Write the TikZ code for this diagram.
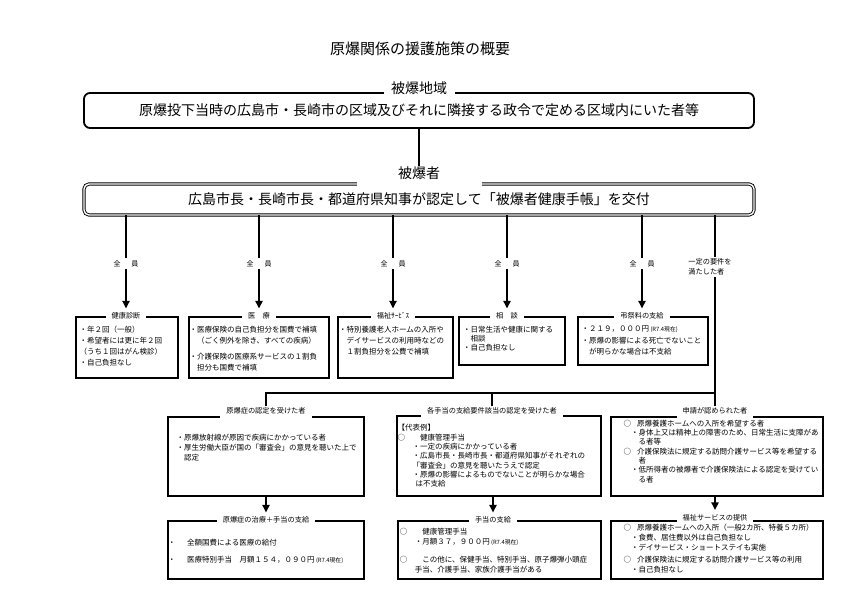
\documentclass[tikz,border=0pt]{standalone}
\usepackage{fontspec}
\setmainfont{Noto Sans CJK JP}
\usetikzlibrary{arrows.meta}
\newcommand{\genzai}{{\fontsize{5.8}{6}\selectfont\ (R7.4現在)}}
\newcommand{\indt}[1]{\hspace*{#1em}}
\tikzset{
  conn/.style={line width=2.2pt},
  arr/.style={conn,-{Triangle[length=7.5pt,width=7pt]},shorten >=3pt},
  bigbox/.style={draw,line width=1.8pt,rounded corners=6pt,minimum width=670pt,inner sep=0pt,font=\fontsize{14}{16}\selectfont},
  toplabel/.style={fill=white,anchor=base,inner xsep=0pt,inner ysep=0pt,font=\fontsize{14}{16}\selectfont},
  sbox/.style={draw,line width=1.6pt,anchor=north west,inner sep=0pt},
  slabel/.style={fill=white,inner xsep=6pt,inner ysep=1pt,font=\fontsize{7.2}{8}\selectfont},
  mlabel/.style={slabel,anchor=base,text depth=3.5pt},
  stext/.style={anchor=north west,inner sep=0pt,align=left,font=\fontsize{7.5}{10.5}\selectfont},
  zenin/.style={fill=white,inner sep=2.5pt,font=\fontsize{7}{8}\selectfont},
  yoken/.style={fill=white,inner sep=2pt,align=left,font=\fontsize{7.2}{10}\selectfont}
}
\begin{document}
\begin{tikzpicture}[x=1pt,y=-1pt]
\useasboundingbox (0,0) rectangle (842,596);
\node[font=\fontsize{15}{17}\selectfont] (title) at (420,49) {原爆関係の援護施策の概要};

\node[bigbox,minimum height=35pt] (chiiki) at (419,110.5) {原爆投下当時の広島市・長崎市の区域及びそれに隣接する政令で定める区域内にいた者等};
\node[toplabel,minimum width=71pt] (chiikiL) at (419,93.3) {被爆地域};
\node[bigbox,line width=0.9pt,double,double distance=1.4pt,rounded corners=5pt,minimum height=31pt] (techo) at (419,199.5) {広島市長・長崎市長・都道府県知事が認定して「被爆者健康手帳」を交付};
\node[toplabel,minimum width=125pt,text depth=8pt] (hibakushaL) at (419,178.3) {被爆者};
\draw[conn] (chiiki) -- (hibakushaL);

\node[sbox,minimum width=102pt,minimum height=61pt] (kenshin) at (75,316) {};
\node[slabel] (kenshinL) at (126,316) {健康診断};
\node[stext,font=\fontsize{7.5}{11}\selectfont] (kenshinT) at (79.5,325.5) {・年２回（一般）\\・希望者には更に年２回\\（うち１回はがん検診）\\・自己負担なし};

\node[sbox,minimum width=140pt,minimum height=61pt] (iryo) at (188,316) {};
\node[slabel] (iryoL) at (259,316) {医　療};
\node[stext,font=\fontsize{7.5}{11}\selectfont] (iryoT) at (189.5,325.5) {・医療保険の自己負担分を国費で補填\\\indt{1}（ごく例外を除き、すべての疾病）\\[5pt]・介護保険の医療系サービスの１割負\\\indt{1}担分も国費で補填};

\node[sbox,minimum width=115pt,minimum height=61pt] (fukushi) at (337,316) {};
\node[slabel] (fukushiL) at (393,316) {福祉ｻｰﾋﾞｽ};
\node[stext,font=\fontsize{7.5}{11}\selectfont] (fukushiT) at (339,325.5) {・特別養護老人ホームの入所や\\\indt{1}デイサービスの利用時などの\\\indt{1}１割負担分を公費で補填};

\node[sbox,minimum width=106pt,minimum height=48pt] (sodan) at (458,316) {};
\node[slabel] (sodanL) at (507,316) {相　談};
\node[stext,font=\fontsize{7.5}{9.2}\selectfont] (sodanT) at (463,325.5) {・日常生活や健康に関する\\\indt{1}相談\\・自己負担なし};

\node[sbox,minimum width=130pt,minimum height=48pt] (chosai) at (577,316) {};
\node[slabel] (chosaiL) at (642,316) {弔祭料の支給};
\node[stext] (chosaiT) at (581.5,325.5) {・２１９，０００円\genzai\\[2pt]・原爆の影響による死亡でないこと\\\indt{1}が明らかな場合は不支給};

\draw[arr] (techo.south -| kenshinL) -- node[zenin] (zenin1) {全\hspace{11pt}員} (kenshinL);
\draw[arr] (techo.south -| iryoL) -- node[zenin] (zenin2) {全\hspace{11pt}員} (iryoL);
\draw[arr] (techo.south -| fukushiL) -- node[zenin] (zenin3) {全\hspace{11pt}員} (fukushiL);
\draw[arr] (techo.south -| sodanL) -- node[zenin] (zenin4) {全\hspace{11pt}員} (sodanL);
\draw[arr] (techo.south -| chosaiL) -- node[zenin] (zenin5) {全\hspace{11pt}員} (chosaiL);

\node[sbox,minimum width=196pt,minimum height=79pt] (nintei) at (167,416) {};
\node[mlabel] (ninteiL) at (266,413.7) {原爆症の認定を受けた者};
\node[stext,font=\fontsize{7.5}{9.6}\selectfont] (ninteiT) at (176.3,434.3) {・原爆放射線が原因で疾病にかかっている者\\・厚生労働大臣が国の「審査会」の意見を聴いた上で\\\indt{1}認定};

\node[sbox,minimum width=204pt,minimum height=80pt] (teate) at (396,415) {};
\node[mlabel] (teateL) at (492,413.7) {各手当の支給要件該当の認定を受けた者};
\node[stext,font=\fontsize{7.5}{9.35}\selectfont] (teateT) at (397.5,424.3) {【代表例】\\○\hspace{15pt}健康管理手当\\\indt{2}・一定の疾病にかかっている者\\\indt{2}・広島市長・長崎市長・都道府県知事がそれぞれの\\\indt{2}「審査会」の意見を聴いたうえで認定\\\indt{2}・原爆の影響によるものでないことが明らかな場合\\\indt{2.4}は不支給};

\node[sbox,minimum width=212pt,minimum height=79pt] (shinsei) at (610,416) {};
\node[mlabel] (shinseiL) at (715,413.7) {申請が認められた者};
\node[stext,font=\fontsize{7.5}{9.33}\selectfont] (shinseiT) at (623.5,419.5) {○\hspace{6pt}原爆養護ホームへの入所を希望する者\\\indt{1}・身体上又は精神上の障害のため、日常生活に支障があ\\\indt{2}る者等\\○\hspace{6pt}介護保険法に規定する訪問介護サービス等を希望する\\\indt{2}者\\\indt{1}・低所得者の被爆者で介護保険法による認定を受けてい\\\indt{2}る者};

\coordinate (fork) at (715,393);
\draw[conn] (techo.south -| shinseiL) -- (shinseiL);
\draw[conn] (ninteiL.north) |- (fork);
\draw[conn] (teateL.north) -- (teateL.north |- fork);
\node[yoken] (yokenL) at (710,267) {一定の要件を\\満たした者};

\node[sbox,minimum width=196pt,minimum height=58pt] (chiryo) at (167,520) {};
\node[slabel] (chiryoL) at (266,520) {原爆症の治療＋手当の支給};
\node[stext] (chiryoT) at (168,539.2) {・\hspace{11.5pt}全額国費による医療の給付\\[6.5pt]・\hspace{11.5pt}医療特別手当　月額１５４，０９０円\genzai};

\node[sbox,minimum width=203pt,minimum height=58pt] (kyufu) at (397,520) {};
\node[slabel] (kyufuL) at (493,520) {手当の支給};
\node[stext,font=\fontsize{7.5}{10}\selectfont] (kyufuT) at (399.6,528.3) {○\hspace{15pt}健康管理手当\\\indt{2}・月額３７，９００円\genzai\\[8pt]○\hspace{15pt}この他に、保健手当、特別手当、原子爆弾小頭症\\\indt{2}手当、介護手当、家族介護手当がある};

\node[sbox,minimum width=212pt,minimum height=58pt] (teikyo) at (610,520) {};
\node[slabel] (teikyoL) at (715,517.5) {福祉サービスの提供};
\node[stext,font=\fontsize{7.5}{9.8}\selectfont] (teikyoT) at (623.5,524.3) {○\hspace{6pt}原爆養護ホームへの入所（一般2カ所、特養５カ所）\\\indt{1}・食費、居住費以外は自己負担なし\\\indt{1}・デイサービス・ショートステイも実施\\[2pt]○\hspace{6pt}介護保険法に規定する訪問介護サービス等の利用\\\indt{1}・自己負担なし};

\draw[arr] (nintei.south -| chiryoL) -- (chiryoL);
\draw[arr] (teate.south -| kyufuL) -- (kyufuL);
\draw[arr] (shinsei.south -| teikyoL) -- (teikyoL);
\end{tikzpicture}
\end{document}
